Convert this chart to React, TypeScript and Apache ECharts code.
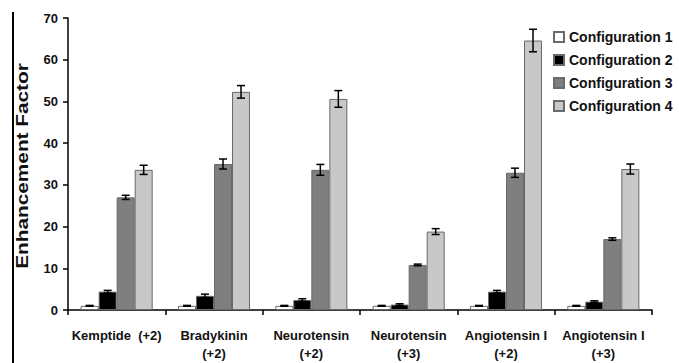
import React, { useEffect, useRef } from "react";
import * as echarts from "echarts";

const categories = [
  "Kemptide  (+2)",
  "Bradykinin\n(+2)",
  "Neurotensin\n(+2)",
  "Neurotensin\n(+3)",
  "Angiotensin I\n(+2)",
  "Angiotensin I\n(+3)",
];
const seriesNames = ["Configuration 1", "Configuration 2", "Configuration 3", "Configuration 4"];
const config1 = [1.0, 1.0, 1.0, 1.0, 1.0, 1.0];
const config2 = [4.4, 3.4, 2.4, 1.3, 4.4, 2.0];
const config3 = [27.0, 35.0, 33.6, 10.8, 32.9, 17.0];
const config4 = [33.6, 52.3, 50.6, 18.8, 64.6, 33.8];
const err1 = [0.1, 0.1, 0.1, 0.1, 0.1, 0.1];
const err2 = [0.3, 0.4, 0.3, 0.2, 0.3, 0.2];
const err3 = [0.5, 1.2, 1.3, 0.2, 1.1, 0.3];
const err4 = [1.1, 1.5, 2.0, 0.7, 2.7, 1.2];
const yTicks = { min: 0, max: 70, interval: 10 };

const values = [config1, config2, config3, config4];
const errors = [err1, err2, err3, err4];
const fills = ["#ffffff", "#000000", "#7f7f7f", "#c8c8c8"];
const CAT_GAP = 0.26;

export default function App() {
  const ref = useRef<HTMLDivElement>(null);
  useEffect(() => {
    const chart = echarts.init(ref.current!, null, { renderer: "svg" });
    const font = "'Liberation Sans', Arial, sans-serif";
    const barSeries = seriesNames.map((name, i) => ({
      name,
      type: "bar",
      data: values[i],
      barGap: "0%",
      barCategoryGap: CAT_GAP * 100 + "%",
      itemStyle: { color: fills[i], borderColor: "#6a6a6a", borderWidth: 1 },
      z: 2,
    }));
    const errSeries = seriesNames.map((name, i) => ({
      name: name + " err",
      type: "custom",
      z: 5,
      encode: { x: 0, y: 1 },
      data: values[i].map((v, k) => [k, v, errors[i][k]]),
      renderItem: (params: any, api: any) => {
        const x = api.value(0);
        const v = api.value(1);
        const e = api.value(2);
        const band = api.size([1, 0])[0];
        const total = band * (1 - CAT_GAP);
        const barW = total / 4;
        const cx = api.coord([x, v])[0] - total / 2 + barW * (i + 0.5);
        const top = api.coord([x, v + e])[1];
        const bot = api.coord([x, v - e])[1];
        const cap = 4;
        const st = { stroke: "#000", lineWidth: 1.5 };
        return {
          type: "group",
          children: [
            { type: "line", shape: { x1: cx, y1: top, x2: cx, y2: bot }, style: st },
            { type: "line", shape: { x1: cx - cap, y1: top, x2: cx + cap, y2: top }, style: st },
            { type: "line", shape: { x1: cx - cap, y1: bot, x2: cx + cap, y2: bot }, style: st },
          ],
        };
      },
    }));
    chart.setOption({
      animation: false,
      backgroundColor: "#ffffff",
      grid: { left: 68, right: 27, top: 18, bottom: 53, containLabel: false },
      legend: {
        data: seriesNames,
        orient: "vertical",
        left: 553,
        top: 30,
        padding: 0,
        itemWidth: 10,
        itemHeight: 10,
        itemGap: 9,
        icon: "rect",
        textStyle: { fontFamily: font, fontWeight: "bold", fontSize: 14, color: "#111" },
      },
      xAxis: {
        type: "category",
        data: categories,
        axisLine: { lineStyle: { color: "#000", width: 1.5 } },
        axisTick: { show: true, length: 5, lineStyle: { color: "#000", width: 1.5 } },
        axisLabel: {
          fontFamily: font,
          fontWeight: "bold",
          fontSize: 13,
          color: "#111",
          margin: 16,
          lineHeight: 18,
          interval: 0,
        },
      },
      yAxis: {
        type: "value",
        min: yTicks.min,
        max: yTicks.max,
        interval: yTicks.interval,
        splitLine: { show: false },
        axisLine: { show: true, lineStyle: { color: "#000", width: 1.5 } },
        axisTick: { show: true, length: 5, lineStyle: { color: "#000", width: 1.5 } },
        axisLabel: { fontFamily: font, fontWeight: "bold", fontSize: 13, color: "#111", margin: 10 },
      },
      graphic: [
        { type: "rect", left: 12, top: 12, shape: { width: 2, height: 351 }, style: { fill: "#000" } },
        {
          type: "text",
          x: 22,
          y: 166,
          rotation: Math.PI / 2,
          scaleX: 1.3,
          style: {
            text: "Enhancement Factor",
            fontFamily: font,
            fontWeight: "bold",
            fontSize: 16,
            fill: "#111",
            align: "center",
            verticalAlign: "middle",
          },
        },
      ],
      series: [...barSeries, ...errSeries],
    });
    return () => chart.dispose();
  }, []);
  return <div ref={ref} style={{ position: "fixed", left: 0, top: 0, width: 679, height: 363 }} />;
}
